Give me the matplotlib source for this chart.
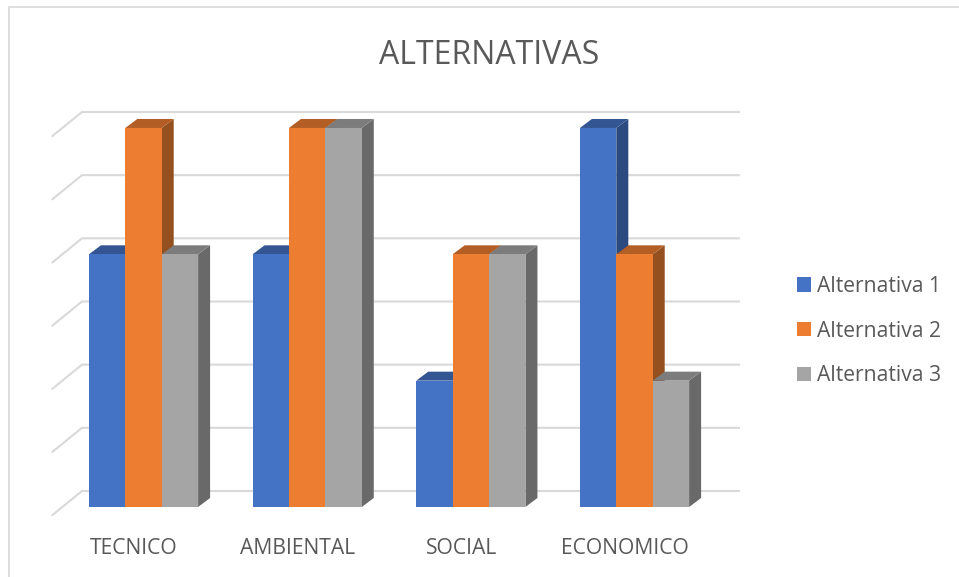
"""
Grafico de barras 3D falso: ALTERNATIVAS
"""
import matplotlib
matplotlib.use('Agg')
import matplotlib.pyplot as plt
from matplotlib.lines import Line2D
from matplotlib.patches import Patch

plt.rcParams['font.family'] = ['Open Sans', 'DejaVu Sans']

categories = ['TECNICO', 'AMBIENTAL', 'SOCIAL', 'ECONOMICO']
series_names = ['Alternativa 1', 'Alternativa 2', 'Alternativa 3']
alt1 = [4, 4, 2, 6]
alt2 = [6, 6, 4, 4]
alt3 = [4, 6, 4, 2]
grid_values = [0, 1, 2, 3, 4, 5, 6]

FRONT = ['#4472C4', '#ED7D31', '#A5A5A5']
TOP = ['#335693', '#B25E25', '#7C7C7C']
SIDE = ['#2A4A80', '#95501F', '#696969']
TEXT = '#595959'
GRID = '#D9D9D9'

W, H = 959, 577
PX_X = 163.67  # pixeles por categoria
PX_Y = 63.17   # pixeles por unidad
BAR_W = 36.4 / PX_X
DX = 12 / PX_X
DY = 9 / PX_Y

fig = plt.figure(figsize=(W / 100, H / 100), dpi=100, facecolor='white')
ax = fig.add_axes([0, 0, 1, 1])
ax.set_xlim(-143.5 / PX_X, (W - 143.5) / PX_X)
ax.set_ylim(-(H - 507) / PX_Y, 507 / PX_Y)
ax.axis('off')

# rejilla: tramo inclinado + pared del fondo
grid_left = -91 / PX_X
grid_back = -61.5 / PX_X
grid_right = 595.5 / PX_X
for v in grid_values:
    y_front = v - 8 / PX_Y
    y_back = v + 16 / PX_Y
    ax.plot([grid_left, grid_back, grid_right], [y_front, y_back, y_back],
            color=GRID, lw=1.5, zorder=1, solid_joinstyle='miter')

# barras, por serie para que se tapen igual que en el original
for s, values in enumerate([alt1, alt2, alt3]):
    for c, v in enumerate(values):
        x0 = c + (s - 1.5) * BAR_W
        x1 = x0 + BAR_W
        z = 2 + s + c * 0.01
        ax.fill([x1, x1 + DX, x1 + DX, x1], [0, DY, v + DY, v],
                color=SIDE[s], lw=0, zorder=z)
        ax.fill([x0, x0 + DX, x1 + DX, x1], [v, v + DY, v + DY, v],
                color=TOP[s], lw=0, zorder=z)
        ax.bar(x0, v, width=BAR_W, align='edge', color=FRONT[s], lw=0, zorder=z)

for c, name in enumerate(categories):
    ax.text(c - 9.5 / PX_X, -41 / PX_Y, name, ha='center', va='center',
            fontsize=15.2, color=TEXT)

fig.text(489 / W, 1 - 55 / H, 'ALTERNATIVAS', ha='center', va='center',
         fontsize=23, color=TEXT)

handles = [Patch(facecolor=col, edgecolor='none') for col in FRONT]
ax.legend(handles, series_names, loc='center left',
          bbox_to_anchor=(790.7 / W, 1 - 331 / H), frameon=False,
          fontsize=15.2, labelcolor=TEXT, handlelength=0.66, handleheight=0.66,
          handletextpad=0.28, labelspacing=1.12, borderpad=0.3, borderaxespad=0)

# borde del grafico (solo arriba e izquierda quedan dentro de la captura)
fig.add_artist(Line2D([8.5 / W, 8.5 / W, 1], [0, 1 - 6.5 / H, 1 - 6.5 / H],
                      color=GRID, lw=1.2))

fig.savefig('out.png', dpi=100, facecolor='white')
plt.close(fig)
